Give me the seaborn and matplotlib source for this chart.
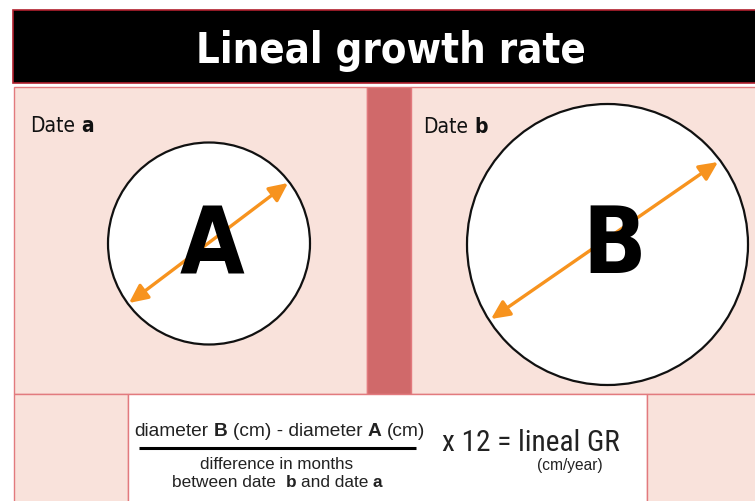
import matplotlib
matplotlib.use("Agg")
import matplotlib.pyplot as plt
import seaborn as sns
from matplotlib.patches import Rectangle, Circle, FancyArrowPatch

sns.set_theme(style="white")
plt.rcParams['font.family'] = ['DejaVu Sans']

# ---- content ----
title = "Lineal growth rate"
circle_labels = ["A", "B"]
date_words = ["Date ", "Date "]
date_letters = ["a", "b"]
circle_diameters = [202, 281]
numerator = [("diameter ", "normal"), ("B", "bold"), (" (cm) - diameter ", "normal"),
             ("A", "bold"), (" (cm)", "normal")]
denominator_1 = [("difference in months", "normal")]
denominator_2 = [("between date  ", "normal"), ("b", "bold"), (" and date ", "normal"),
                 ("a", "bold")]
result_text = [("x 12 = lineal GR", "normal")]
unit_text = [("(cm/year)", "normal")]

# ---- styling ----
PINK = '#F9E2DB'
STRIP = '#D0696A'
EDGE = '#E27A7E'
ORANGE = '#F7931E'
SANS = ['Liberation Sans', 'DejaVu Sans']
NARROW = ['Roboto Condensed', 'Liberation Sans', 'DejaVu Sans']
COND = ['DejaVu Sans']

W, H = 755, 501
fig = plt.figure(figsize=(W / 100, H / 100), dpi=100)
fig.patch.set_facecolor('white')
ax = fig.add_axes([0, 0, 1, 1])
ax.set_xlim(0, W)
ax.set_ylim(H, 0)
ax.axis('off')
renderer = fig.canvas.get_renderer()

# title bar
ax.add_patch(Rectangle((13, 10), 760, 73, fc='black', ec='#B0202E', lw=1.2, zorder=1))
ax.text(391, 63, title, color='white', fontsize=30, fontweight='bold',
        family=COND, fontstretch='condensed', ha='center', va='baseline', zorder=5)

# panels
ax.add_patch(Rectangle((14, 87), 353, 307, fc=PINK, ec=EDGE, lw=1, zorder=1))
ax.add_patch(Rectangle((367, 87), 44, 307, fc=STRIP, ec=EDGE, lw=1, zorder=1))
ax.add_patch(Rectangle((411, 87), 350, 307, fc=PINK, ec=EDGE, lw=1, zorder=1))
ax.add_patch(Rectangle((14, 394), 114, 120, fc=PINK, ec=EDGE, lw=1, zorder=1))
ax.add_patch(Rectangle((128, 394), 519, 120, fc='white', ec=EDGE, lw=1, zorder=1))
ax.add_patch(Rectangle((647, 394), 120, 120, fc=PINK, ec=EDGE, lw=1, zorder=1))


def seg_width(s, **kw):
    t = ax.text(0, 0, "|" + s + "|", **kw)
    w1 = t.get_window_extent(renderer).width
    t.remove()
    t = ax.text(0, 0, "||", **kw)
    w2 = t.get_window_extent(renderer).width
    t.remove()
    return w1 - w2


def rich(x, y, segs, ha='center', fit_width=None, fontsize=12, **kw):
    if fit_width is not None:
        w10 = sum(seg_width(s, fontweight=w, fontsize=10, **kw) for s, w in segs)
        fontsize = 10 * fit_width / w10
    widths = [seg_width(s, fontweight=w, fontsize=fontsize, **kw) for s, w in segs]
    total = sum(widths)
    x0 = x - total / 2 if ha == 'center' else x
    for (s, w), wd in zip(segs, widths):
        stripped = s.lstrip(' ')
        lead = len(s) - len(stripped)
        off = seg_width(' ' * lead, fontweight=w, fontsize=fontsize, **kw) if lead else 0
        ax.text(x0 + off, y, stripped.rstrip(' '), fontweight=w, fontsize=fontsize,
                ha='left', va='baseline', zorder=6, **kw)
        x0 += wd


# date labels
date_pos = [(30, 132), (423, 133)]
for (x, y), word, letter in zip(date_pos, date_words, date_letters):
    rich(x, y, [(word, 'normal'), (letter, 'bold')], ha='left', fontsize=15,
         family=COND, fontstretch='condensed', color='#111111')

# circles, arrows, letters
centers = [(209, 243.5), (607.5, 244.5)]
arrow_ends = [((129, 303), (288, 183)), ((491, 319), (718, 162))]
letter_pos = [(212, 273), (614, 273)]
for (cx, cy), d, (p1, p2), (lx, ly), lab in zip(centers, circle_diameters, arrow_ends,
                                                letter_pos, circle_labels):
    ax.add_patch(Circle((cx, cy), d / 2, fc='white', ec='#111111', lw=1.6, zorder=2))
    ax.add_patch(FancyArrowPatch(p1, p2,
                                 arrowstyle='<|-|>,head_length=0.8,head_width=0.38',
                                 mutation_scale=14, lw=2.4, color=ORANGE,
                                 shrinkA=0, shrinkB=0, zorder=3))
    ax.text(lx, ly, lab, fontsize=67, fontweight='bold', family=COND,
            fontstretch='condensed', ha='center', va='baseline', color='black', zorder=4)

# formula
TXT = '#222222'
rich(279.5, 435.7, numerator, fit_width=293, family=SANS, color=TXT)
ax.plot([139, 416], [447.5, 447.5], color='black', lw=2.2, solid_capstyle='butt', zorder=6)
rich(277, 469, denominator_1, fit_width=154, family=SANS, color=TXT)
rich(277.2, 486.7, denominator_2, fit_width=211, family=SANS, color=TXT)
rich(441.7, 451, result_text, ha='left', fit_width=177, family=NARROW, color=TXT)
rich(570, 470, unit_text, fit_width=66, family=SANS, color=TXT)

fig.savefig('out.png', dpi=100, facecolor='white')
